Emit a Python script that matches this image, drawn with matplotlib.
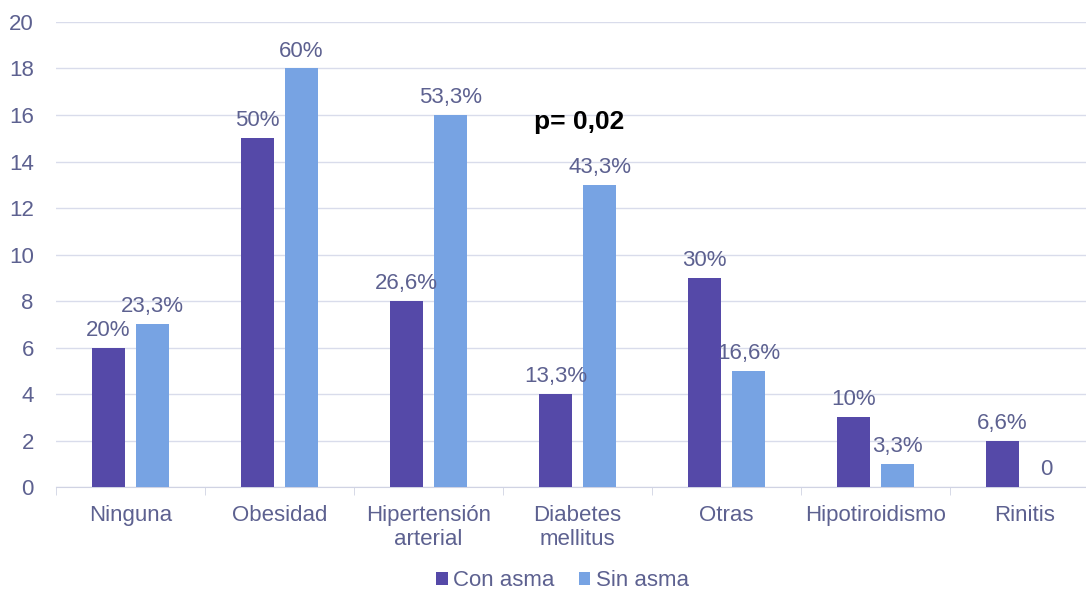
import numpy as np
import matplotlib.pyplot as plt

categorias = ['Ninguna', 'Obesidad', 'Hipertensión\narterial', 'Diabetes\nmellitus',
              'Otras', 'Hipotiroidismo', 'Rinitis']
con_asma = [6, 15, 8, 4, 9, 3, 2]
sin_asma = [7, 18, 16, 13, 5, 1, 0]
etiq_con = ['20%', '50%', '26,6%', '13,3%', '30%', '10%', '6,6%']
etiq_sin = ['23,3%', '60%', '53,3%', '43,3%', '16,6%', '3,3%', '0']

col_con = '#5549A8'
col_sin = '#77A3E3'
col_txt = '#5d6190'

plt.rcParams['font.family'] = ['Liberation Sans', 'DejaVu Sans']

fig = plt.figure(figsize=(10.86, 5.94), dpi=100)
# the plot area runs a little past the right edge of the picture
ax = fig.add_axes([0.0516, 0.18, 0.9604, 0.783])

x = np.arange(len(categorias))
w = 0.221
off = 0.148
b1 = ax.bar(x - off, con_asma, w, color=col_con, label='Con asma', zorder=3)
b2 = ax.bar(x + off, sin_asma, w, color=col_sin, label='Sin asma', zorder=3)

for rects, labs in ((b1, etiq_con), (b2, etiq_sin)):
    for r, t in zip(rects, labs):
        ax.annotate(t, (r.get_x() + r.get_width() / 2, r.get_height()),
                    xytext=(0, 5), textcoords='offset points',
                    ha='center', va='bottom', fontsize=16, color=col_txt)

ax.text(3.01, 15.7, 'p= 0,02', ha='center', va='center', fontsize=19,
        fontweight='bold', color='black')

ax.set_ylim(0, 20)
ax.set_yticks(range(0, 21, 2))
ax.set_xlim(-0.5, len(categorias) - 0.5)
ax.set_xticks(x)
ax.set_xticklabels(categorias, fontsize=16, color=col_txt, va='top', linespacing=1.15)
ax.set_xticks(np.arange(-0.5, len(categorias) + 0.5, 1), minor=True)
ax.tick_params(axis='x', which='major', length=0, pad=13)
ax.tick_params(axis='x', which='minor', length=6, color='#D0D3E3')
ax.tick_params(axis='y', length=0, labelsize=16, labelcolor=col_txt, pad=16)

ax.grid(axis='y', color='#D9DCEB', linewidth=1, zorder=0)
for s in ['top', 'right', 'left']:
    ax.spines[s].set_visible(False)
ax.spines['bottom'].set_color('#D0D3E3')

leg = fig.legend(loc='center', bbox_to_anchor=(0.518, 0.022), ncol=2, frameon=False,
                 fontsize=16, handlelength=0.5, handleheight=0.5, handletextpad=0.25,
                 columnspacing=1.1)
for t in leg.get_texts():
    t.set_color(col_txt)

fig.savefig('out.png', dpi=100)
